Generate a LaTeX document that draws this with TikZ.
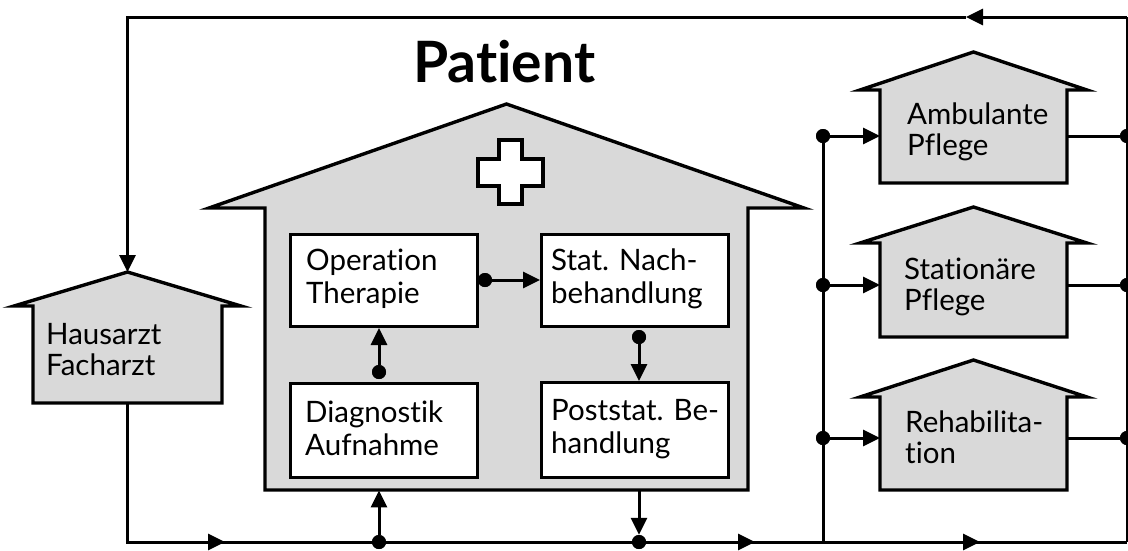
\documentclass[tikz,border=0pt]{standalone}
\usepackage{fontspec}
\setmainfont{Lato}[Ligatures=NoCommon]
\usetikzlibrary{arrows.meta}
\tikzset{
  house/.style={fill=black!15, draw=black, line width=3.4pt, line join=miter},
  inbox/.style={fill=white, draw=black, line width=3pt, inner sep=0pt, anchor=north west},
  conn/.style={line width=3pt},
  arr/.style={conn, -{Triangle[length=17pt,width=16pt]}},
  lbl/.style={anchor=base west, align=left, inner sep=0pt, font=\fontsize{29.5}{33}\selectfont},
  hlbl/.style={anchor=base west, align=left, inner sep=0pt, font=\fontsize{29.5}{31}\selectfont},
  dot/.style={circle, fill=black, inner sep=0pt, minimum size=14pt},
}
\newcommand{\drawhouse}[7]{%
  \draw[house] ({#2-#7},#4) -- ({(#2+#3)/2},#6) -- ({#3+#7},#4) -- (#3,#4) -- (#3,#5) -- (#2,#5) -- (#2,#4) -- cycle;
  \node[inner sep=0pt, minimum width={#3-#2}, minimum height={#5-#4}, anchor=north west] (#1) at (#2,#4) {};
  \coordinate (#1-apex) at ({(#2+#3)/2},#6);
}
\begin{document}
\begin{tikzpicture}[x=1pt,y=-1pt]
\useasboundingbox[fill=white] (0,0) rectangle (1128,550);
% houses
\drawhouse{hosp}{265}{748}{208}{490}{104}{56}
\drawhouse{ha}{33}{222}{306}{403}{272}{19}
\drawhouse{amb}{880}{1067}{90}{183}{52}{20}
\drawhouse{stat}{880}{1067}{243}{337}{207}{20}
\drawhouse{reha}{880}{1067}{397}{490}{360}{20}
% cross
\draw[fill=white, line width=3.2pt] (499,140) -- (522,140) -- (522,159) -- (543,159) -- (543,186) -- (522,186) -- (522,204) -- (499,204) -- (499,186) -- (478,186) -- (478,159) -- (499,159) -- cycle;
% inner boxes
\node[inbox, minimum width=187, minimum height=92] (op) at (289,233) {};
\node[inbox, minimum width=187, minimum height=94] (diag) at (289,382) {};
\node[inbox, minimum width=187, minimum height=92] (stn) at (540,233) {};
\node[inbox, minimum width=187, minimum height=95] (post) at (540,381) {};
% texts (anchored at the baseline of the last line)
\node[anchor=base west, inner sep=0pt, font=\bfseries\fontsize{57}{60}\selectfont] (title) at (413,82) {Patient};
\node[lbl] (t-op) at (306,303) {Operation\\Therapie};
\node[lbl] (t-stn) at (551,303) {Stat. Nach-\\behandlung};
\node[lbl] (t-diag) at (305,455) {Diagnostik\\Aufnahme};
\node[lbl] (t-post) at (551,453) {Poststat. Be-\\handlung};
\node[hlbl] (t-ha) at (46,375) {Hausarzt\\Facharzt};
\node[hlbl] (t-amb) at (907,155) {Ambulante\\Pflege};
\node[hlbl] (t-stat) at (904,310) {Stationäre\\Pflege};
\node[hlbl] (t-reha) at (905,463) {Rehabilita-\\tion};
% frame coordinates
\coordinate (tr) at (1127,17);
\coordinate (tarr) at (966,17);
\coordinate (tl) at (ha-apex |- tr);
\coordinate (br) at (1127,542);
\coordinate (bl) at (ha.south |- br);
\coordinate (ba1) at (225,542);
\coordinate (ba2) at (755,542);
\coordinate (ba3) at (980,542);
% dots
\node[dot] (d-hin) at (379,542) {};
\node[dot] (d-hout) at (639,542) {};
\node[dot] (d-op) at (485,280) {};
\node[dot] (d-diag) at (379,372) {};
\node[dot] (d-stn) at (639,337) {};
\node[dot] (d-l1) at (823,136) {};
\node[dot] (d-l2) at (823,285) {};
\node[dot] (d-l3) at (823,438) {};
\node[dot] (d-r1) at (1127,136) {};
\node[dot] (d-r2) at (1127,285) {};
\node[dot] (d-r3) at (1127,438) {};
% frame connectors
\draw[line width=2pt] (tr) -- (br);
\draw[arr] (tr) -- (tarr);
\draw[arr] (tarr) -- (tl) -- (ha-apex);
\draw[conn] (ha.south) -- (bl) -- (br);
\draw[arr] (bl) -- (ba1);
\draw[arr] (d-hout) -- (ba2);
\draw[arr] (d-l1 |- br) -- (ba3);
% hospital connectors
\draw[arr] (d-hin) -- (d-hin |- hosp.south);
\draw[arr] (d-hout |- hosp.south) -- (d-hout.north);
\draw[arr] (d-op) -- (d-op -| stn.west);
\draw[arr] (d-diag) -- (d-diag |- op.south);
\draw[arr] (d-stn) -- (d-stn |- post.north);
% care connectors
\draw[conn] (d-l1) -- (d-l1 |- br);
\draw[arr] (d-l1) -- (d-l1 -| amb.west);
\draw[arr] (d-l2) -- (d-l2 -| stat.west);
\draw[arr] (d-l3) -- (d-l3 -| reha.west);
\draw[conn] (amb.east |- d-r1) -- (d-r1);
\draw[conn] (stat.east |- d-r2) -- (d-r2);
\draw[conn] (reha.east |- d-r3) -- (d-r3);
% dots on top
\foreach \d in {d-hin,d-hout,d-op,d-diag,d-stn,d-l1,d-l2,d-l3,d-r1,d-r2,d-r3}
  \fill (\d) circle (7);
\end{tikzpicture}
\end{document}
